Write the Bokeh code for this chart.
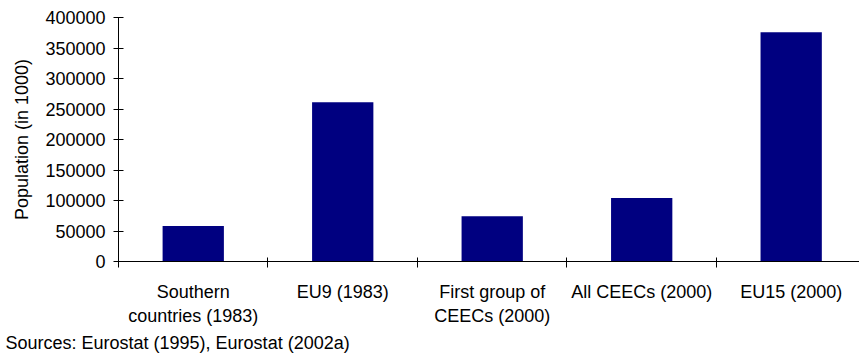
from bokeh.plotting import figure
from bokeh.models import Range1d, FixedTicker, BasicTickFormatter, Title
from bokeh.embed import file_html
from bokeh.resources import INLINE

categories = ["Southern\ncountries (1983)", "EU9 (1983)", "First group of\nCEECs (2000)",
              "All CEECs (2000)", "EU15 (2000)"]
population = [58000, 261000, 74000, 104000, 376000]
y_ticks = [0, 50000, 100000, 150000, 200000, 250000, 300000, 350000, 400000]
source_text = "Sources: Eurostat (1995), Eurostat (2002a)"

FONT = "Liberation Sans"
FS = "18px"

centers = [i + 0.5 for i in range(len(categories))]
bounds = list(range(len(categories) + 1))

p = figure(width=859, height=360, output_backend="svg", toolbar_location=None,
           x_range=Range1d(0, 4.957), y_range=Range1d(0, 400000),
           min_border_left=118, min_border_right=0, min_border_top=17, min_border_bottom=99)
p.outline_line_color = None
p.xgrid.visible = False
p.ygrid.visible = False
p.background_fill_color = "white"
p.border_fill_color = "white"

p.vbar(x=centers, top=population, width=0.41, bottom=0, fill_color="#000080", line_color=None)

# x axis
p.xaxis.ticker = FixedTicker(ticks=centers, minor_ticks=bounds)
p.xaxis.major_label_overrides = {c: lab for c, lab in zip(centers, categories)}
p.xaxis.major_tick_in = 0
p.xaxis.major_tick_out = 0
p.xaxis.minor_tick_in = 4
p.xaxis.minor_tick_out = 6
p.xaxis.minor_tick_line_color = "#000000"
p.xaxis.axis_line_color = "#000000"
p.xaxis.major_label_text_font = FONT
p.xaxis.major_label_text_font_size = FS
p.xaxis.major_label_text_color = "#000000"
p.xaxis.major_label_standoff = 14
p.xaxis.major_label_text_align = "center"

# y axis
p.yaxis.ticker = FixedTicker(ticks=y_ticks, minor_ticks=[])
p.yaxis.formatter = BasicTickFormatter(use_scientific=False)
p.yaxis.major_tick_in = 5
p.yaxis.major_tick_out = 5
p.yaxis.major_tick_line_color = "#000000"
p.yaxis.axis_line_color = "#000000"
p.yaxis.major_label_text_font = FONT
p.yaxis.major_label_text_font_size = FS
p.yaxis.major_label_text_color = "#000000"
p.yaxis.major_label_standoff = 8
p.yaxis.axis_label = "Population (in 1000)"
p.yaxis.axis_label_text_font = FONT
p.yaxis.axis_label_text_font_size = FS
p.yaxis.axis_label_text_font_style = "normal"
p.yaxis.axis_label_text_color = "#000000"
p.yaxis.axis_label_standoff = 10

t = Title(text=source_text, align="left", text_font=FONT, text_font_size=FS,
          text_font_style="normal", text_color="#000000", offset=-113, standoff=4)
p.add_layout(t, "below")

open("out.html", "w").write(file_html(p, INLINE))
